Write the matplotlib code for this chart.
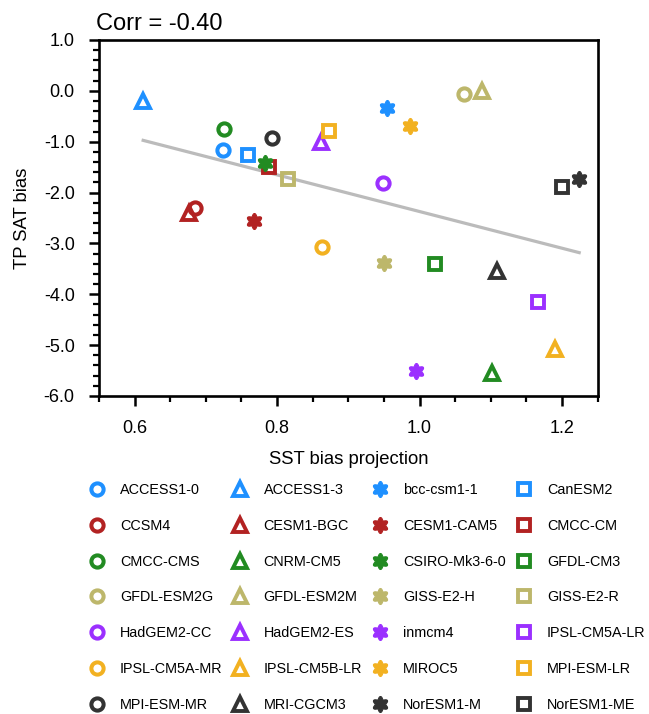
import numpy as np
import matplotlib
matplotlib.use("Agg")
import matplotlib.pyplot as plt
from matplotlib.path import Path
from matplotlib.lines import Line2D

plt.rcParams["font.family"] = ["Liberation Sans", "DejaVu Sans"]

# model names, in legend order (row by row)
models = ["ACCESS1-0", "ACCESS1-3", "bcc-csm1-1", "CanESM2",
          "CCSM4", "CESM1-BGC", "CESM1-CAM5", "CMCC-CM",
          "CMCC-CMS", "CNRM-CM5", "CSIRO-Mk3-6-0", "GFDL-CM3",
          "GFDL-ESM2G", "GFDL-ESM2M", "GISS-E2-H", "GISS-E2-R",
          "HadGEM2-CC", "HadGEM2-ES", "inmcm4", "IPSL-CM5A-LR",
          "IPSL-CM5A-MR", "IPSL-CM5B-LR", "MIROC5", "MPI-ESM-LR",
          "MPI-ESM-MR", "MRI-CGCM3", "NorESM1-M", "NorESM1-ME"]

# SST bias projection (x) and TP SAT bias (y)
sst_proj = [0.724, 0.612, 0.954, 0.759,
            0.685, 0.677, 0.768, 0.788,
            0.725, 1.102, 0.783, 1.021,
            1.063, 1.087, 0.950, 0.816,
            0.948, 0.862, 0.995, 1.166,
            0.863, 1.190, 0.987, 0.873,
            0.793, 1.108, 1.224, 1.200]
tp_sat = [-1.16, -0.19, -0.33, -1.27,
          -2.31, -2.41, -2.55, -1.50,
          -0.75, -5.55, -1.41, -3.40,
          -0.06, 0.00, -3.38, -1.74,
          -1.81, -1.01, -5.51, -4.15,
          -3.08, -5.08, -0.69, -0.78,
          -0.93, -3.55, -1.74, -1.90]

colors = ["#1E90FF", "#B22222", "#228B22", "#BDB76B",
          "#9B30FF", "#F2B121", "#333333"]

xticks = [0.6, 0.8, 1.0, 1.2]
xticklabels = ["0.6", "0.8", "1.0", "1.2"]
yticks = [1.0, 0.0, -1.0, -2.0, -3.0, -4.0, -5.0, -6.0]
yticklabels = ["1.0", "0.0", "-1.0", "-2.0", "-3.0", "-4.0", "-5.0", "-6.0"]

# six-lobed solid "gear" marker
th = np.linspace(0, 2 * np.pi, 121)
r = 0.83 + 0.17 * np.cos(6 * (th - np.pi / 2))
gear = Path(np.column_stack([r * np.cos(th), r * np.sin(th)]), closed=True)

shapes = ["o", "^", gear, "s"]


def marker_style(i):
    col = colors[i // 4]
    shp = shapes[i % 4]
    if i % 4 == 2:
        return dict(marker=shp, markersize=11.5, markerfacecolor=col,
                    markeredgecolor=col, markeredgewidth=0.8, linestyle="none")
    if i % 4 == 1:
        return dict(marker=shp, markersize=9.4, markerfacecolor="none",
                    markeredgecolor=col, markeredgewidth=2.8, linestyle="none")
    if i % 4 == 3:
        return dict(marker=shp, markersize=9.2, markerfacecolor="none",
                    markeredgecolor=col, markeredgewidth=2.8, linestyle="none")
    return dict(marker=shp, markersize=8.8, markerfacecolor="none",
                markeredgecolor=col, markeredgewidth=2.9, linestyle="none")


fig = plt.figure(figsize=(6.49, 7.14), dpi=100)
ax = fig.add_axes([0.1525, 0.4454, 0.7685, 0.4986])

# regression line
x = np.array(sst_proj)
y = np.array(tp_sat)
slope, intercept = np.polyfit(x, y, 1)
xl = np.array([x.min(), x.max()])
ax.plot(xl, slope * xl + intercept, color="#BBBBBB", linewidth=2.3, zorder=2)

handles = []
for i, name in enumerate(models):
    st = marker_style(i)
    ax.plot(sst_proj[i], tp_sat[i], zorder=3, **st)
    handles.append(Line2D([], [], **st))

ax.set_xlim(0.55, 1.25)
ax.set_ylim(-6.0, 1.0)
ax.set_xticks(xticks)
ax.set_xticklabels(xticklabels)
ax.set_yticks(yticks)
ax.set_yticklabels(yticklabels)
ax.set_xticks(np.arange(0.55, 1.251, 0.05), minor=True)
ax.set_yticks(np.arange(-6.0, 1.01, 0.2), minor=True)
ax.tick_params(which="major", direction="out", length=7.5, width=1.8,
               labelsize=13, pad=10)
ax.tick_params(which="minor", direction="out", length=4, width=1.6)
for sp in ax.spines.values():
    sp.set_linewidth(1.9)

ax.set_xlabel("SST bias projection", fontsize=13.3, labelpad=10)
ax.set_ylabel("TP SAT bias", fontsize=13.3, labelpad=9)
ax.set_title("Corr = -0.40", loc="left", fontsize=17, pad=7, x=-0.005)

# legend laid out row by row in 4 columns
order = [r * 4 + c for c in range(4) for r in range(7)]
fig.legend([handles[k] for k in order], [models[k] for k in order],
           ncol=4, loc="upper left", bbox_to_anchor=(0.138, 0.3235),
           frameon=False, fontsize=10.4, handlelength=1.0,
           handletextpad=1.1, columnspacing=0.75, labelspacing=1.51,
           borderpad=0, borderaxespad=0)

fig.savefig("out.png", dpi=100)
